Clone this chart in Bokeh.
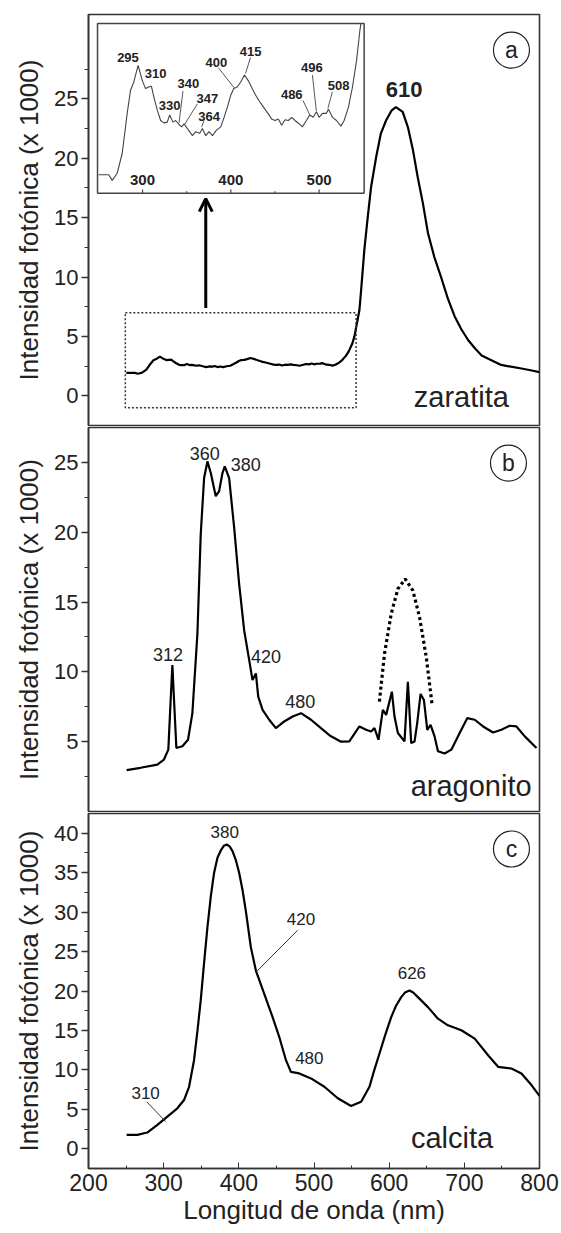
from bokeh.plotting import figure
from bokeh.layouts import column
from bokeh.models import Range1d, FixedTicker, Arrow, OpenHead
from bokeh.core.properties import value
from bokeh.embed import file_html
from bokeh.resources import INLINE

FONT = "Liberation Sans"

# ---------------- data ----------------
# (a) zaratita: detail region shown in the inset (250-547 nm)
inset_x = [250.3, 261.7, 265.6, 271.3, 277, 282.6, 286.4, 290, 295, 299.7, 303.4, 307, 310,
           312.9, 316.7, 320.5, 324.2, 328, 330.7, 334.4, 337.5, 341.3, 344.3, 347, 352, 356.5,
           360.2, 364.8, 367.8, 371.6, 375.3, 379.2, 383.7, 388.6, 392.4, 396.2, 400, 403.4,
           407.2, 411, 415.5, 419.7, 424.2, 428, 431.8, 435.6, 439.4, 443.2, 446.2, 450, 453.8,
           457.6, 461.4, 465.1, 469, 472.7, 477.3, 481, 485.6, 489.4, 493.2, 496.9, 500, 503.8,
           508.3, 510.6, 515.1, 519.7, 524.7, 528.4, 533.3, 537.8, 542.4, 546.2, 547.4]
inset_y = [1.93, 1.93, 1.86, 1.95, 2.2, 2.7, 2.99, 3.09, 3.3, 3.11, 3.01, 3.03, 3.04,
           2.9, 2.74, 2.61, 2.58, 2.59, 2.68, 2.59, 2.61, 2.56, 2.53, 2.57, 2.49, 2.42,
           2.47, 2.45, 2.51, 2.42, 2.47, 2.42, 2.49, 2.53, 2.65, 2.78, 2.93, 3.01,
           3.03, 3.09, 3.18, 3.11, 3.01, 2.93, 2.86, 2.8, 2.74, 2.68, 2.63, 2.61, 2.63,
           2.55, 2.62, 2.61, 2.65, 2.61, 2.57, 2.53, 2.61, 2.68, 2.65, 2.72, 2.65, 2.7,
           2.7, 2.75, 2.65, 2.61, 2.54, 2.61, 2.78, 3.03, 3.36, 3.74, 3.83]
# (a) zaratita: main band
zar_tail_x = [551, 553.8, 558, 560.4, 562.7, 567, 571.6, 576, 582.7, 589, 596, 603, 609,
              618, 625, 631.6, 638, 644.9, 651.6, 660, 669, 678, 687, 696, 705, 714, 723,
              736, 749, 762, 776, 788, 800]
zar_tail_y = [4.4, 5.0, 6.4, 7.2, 8.9, 12.3, 15.1, 17.6, 20.1, 22.1, 23.2, 24.0, 24.3,
              23.9, 22.6, 20.7, 18.4, 16.2, 13.7, 11.7, 10.0, 8.2, 6.7, 5.6, 4.7, 4.0, 3.4,
              3.0, 2.6, 2.45, 2.3, 2.15, 2.0]
zar_x = inset_x[:-1] + zar_tail_x
zar_y = inset_y[:-1] + zar_tail_y

# (b) aragonito
arag_x = [250.7, 269.3, 291.6, 300.4, 306.2, 309.3, 311.6, 313.8, 316.9, 324.9, 332.4, 338.2,
          344.9, 349.3, 353.8, 358.2, 362.7, 369.3, 373.8, 378.2, 381.3, 387.1, 393.8, 400.4,
          407.1, 413.8, 418.2, 422.7, 425.8, 431.6, 440.4, 449.3, 460.4, 471.6, 482.7, 496,
          509.3, 522, 536, 547, 560.4, 569.3, 576, 580.4, 585.8, 591.6, 596, 603.6, 607.1,
          611.6, 620.4, 624.9, 629.3, 633.8, 637.3, 641.8, 646.2, 650.7, 655.1, 660.4, 664.9,
          673.8, 682.7, 693.8, 704, 713.8, 725, 738.2, 749.3, 760.4, 769.3, 780.4, 796]
arag_y = [2.96, 3.13, 3.36, 3.72, 4.43, 7.99, 10.48, 7.99, 4.55, 4.67, 5.14, 7.04,
          12.74, 19.85, 23.88, 25.07, 24.24, 22.58, 22.94, 24.24, 24.72, 23.88, 20.32, 16.3,
          12.97, 10.84, 9.41, 9.89, 8.22, 7.28, 6.57, 5.97, 6.45, 6.8, 7.04, 6.57,
          5.97, 5.4, 5.0, 5.02, 6.09, 5.85, 5.73, 5.97, 5.14, 7.28, 6.92, 8.58, 6.8,
          5.62, 5.02, 9.29, 4.9, 5.02, 6.33, 8.42, 7.99, 5.85, 6.21, 5.38, 4.31,
          4.15, 4.43, 5.62, 6.69, 6.57, 6.09, 5.66, 5.85, 6.14, 6.09, 5.38, 4.55]
arc_x = [587, 593.8, 602.7, 611.6, 621.3, 631.6, 640.4, 649.3, 656.9]
arc_y = [7.87, 11.3, 14.16, 15.94, 16.65, 15.82, 13.92, 11.07, 7.75]

# (c) calcita
calc_x = [250.7, 264.9, 278.2, 291.6, 304.9, 318.2, 327.1, 333.8, 340.4, 345, 349.3, 353.8,
          358.2, 362.7, 367.1, 371.6, 376, 380, 384, 388, 391.6, 396, 400.4, 404.9, 409.3,
          416, 422.7, 433.8, 444.9, 453.8, 462.7, 469.3, 480.4,
          496, 513.8, 531.6, 549.3, 562.7, 573.8, 580, 587.1, 595, 602.7, 609, 616, 621, 627.1,
          632, 638.2, 651.6, 664.9, 678.2, 696, 713.8, 731.6, 744.9, 762.7, 776, 789.3, 800]
calc_y = [1.77, 1.77, 2.06, 3.03, 4.08, 5.13, 6.18, 7.86, 11.23, 15.0, 18.8, 23.6,
          28.05, 32.0, 35.0, 36.9, 37.82, 38.4, 38.57, 38.3, 37.73, 36.6, 35.0, 32.8, 30.16,
          25.53, 22.59, 19.65, 16.69, 14.17, 11.23, 9.75, 9.55,
          8.92, 7.86, 6.4, 5.43, 5.97, 7.86, 9.9, 12.08, 14.5, 16.69, 18.1, 19.22, 19.8, 20.06,
          19.8, 19.22, 17.96, 16.49, 15.65, 15.02, 13.97, 11.86, 10.39, 10.18, 9.55, 8.08, 6.7]

# tick values
x_ticks = [200, 300, 400, 500, 600, 700, 800]
x_minor = [250, 350, 450, 550, 650, 750]
a_ticks = [0, 5, 10, 15, 20, 25]
a_minor = [2.5, 7.5, 12.5, 17.5, 22.5, 27.5]
b_ticks = [5, 10, 15, 20, 25]
b_minor = [2.5, 7.5, 12.5, 17.5, 22.5]
c_ticks = [0, 5, 10, 15, 20, 25, 30, 35, 40]
c_minor = [2.5, 7.5, 12.5, 17.5, 22.5, 27.5, 32.5, 37.5]
inset_ticks = [300, 400, 500]
inset_minor = [350, 450]

# peak labels
inset_lab = ["295", "310", "330", "340", "347", "364", "400", "415", "486", "496", "508"]
inset_lab_x = [283.5, 314.8, 330.7, 352, 373.5, 375.3, 383.7, 422.3, 469, 491.7, 522]
inset_lab_y = [3.40, 3.20, 2.80, 3.07, 2.88, 2.66, 3.34, 3.48, 2.94, 3.27, 3.05]
inset_lead_x0 = [345.8, 362.2, 369.7, 386.0, 422.3, 481.8, 492.4, 515.0]
inset_lead_y0 = [2.98, 2.82, 2.61, 3.27, 3.40, 2.86, 3.18, 2.97]
inset_lead_x1 = [341.3, 347.0, 367.0, 403.7, 416.7, 489.4, 496.9, 509.9]
inset_lead_y1 = [2.58, 2.55, 2.53, 3.02, 3.20, 2.68, 2.73, 2.76]

b_lab = ["312", "360", "380", "420", "480"]
b_lab_x = [305.8, 354.7, 409.3, 436, 481.8]
b_lab_y = [11.26, 25.66, 24.87, 11.12, 7.87]

c_lab = ["380", "310", "420", "480", "626"]
c_lab_x = [381.3, 276, 482.7, 493.8, 630.2]
c_lab_y = [40.17, 7.03, 29.1, 11.57, 22.25]
c_lead_x0 = [277.3, 478.2]
c_lead_y0 = [5.97, 27.7]
c_lead_x1 = [302.7, 422.7]
c_lead_y1 = [3.44, 22.37]

YLABEL = "Intensidad fotónica (x 1000)"


def make_fig(height, yr, border_top, border_bottom, ticks, minor, bottom_axis):
    p = figure(width=561, height=height, x_range=Range1d(200, 800), y_range=Range1d(*yr),
               output_backend="svg", toolbar_location=None,
               x_axis_location="below" if bottom_axis else None,
               min_border_left=88, min_border_right=22,
               min_border_top=border_top, min_border_bottom=border_bottom)
    p.grid.visible = False
    p.outline_line_color = "#333333"
    p.outline_line_width = 1.6
    p.background_fill_color = "white"
    p.border_fill_color = "white"
    ya = p.yaxis[0]
    ya.ticker = FixedTicker(ticks=ticks, minor_ticks=minor)
    ya.major_tick_out = 7
    ya.major_tick_in = 0
    ya.minor_tick_out = 4
    ya.minor_tick_in = 0
    ya.axis_line_color = "#333333"
    ya.axis_line_width = 1.6
    ya.major_tick_line_color = "#333333"
    ya.minor_tick_line_color = "#333333"
    ya.major_tick_line_width = 1.3
    ya.major_label_text_font = FONT
    ya.major_label_text_font_size = "22px"
    ya.major_label_text_color = "#222222"
    ya.major_label_standoff = 3
    ya.axis_label = YLABEL
    ya.axis_label_text_font = FONT
    ya.axis_label_text_font_size = "26px"
    ya.axis_label_text_font_style = "normal"
    ya.axis_label_text_color = "#222222"
    ya.axis_label_standoff = 7
    if bottom_axis:
        xa = p.xaxis[0]
        xa.ticker = FixedTicker(ticks=x_ticks, minor_ticks=x_minor)
        xa.major_tick_out = 0
        xa.major_tick_in = 6
        xa.minor_tick_out = 0
        xa.minor_tick_in = 3
        xa.axis_line_color = "#333333"
        xa.axis_line_width = 1.6
        xa.major_tick_line_color = "#333333"
        xa.minor_tick_line_color = "#333333"
        xa.major_label_text_font = FONT
        xa.major_label_text_font_size = "23px"
        xa.major_label_text_color = "#222222"
        xa.major_label_standoff = 5
        xa.axis_label = "Longitud de onda (nm)"
        xa.axis_label_text_font = FONT
        xa.axis_label_text_font_size = "26px"
        xa.axis_label_text_font_style = "normal"
        xa.axis_label_text_color = "#222222"
        xa.axis_label_standoff = 1
    return p


def txt(p, xs, ys, texts, size, bold=False, align="center"):
    p.text(x=xs, y=ys, text=texts, text_font=value(FONT), text_font_size=size,
           text_font_style="bold" if bold else "normal", text_align=align,
           text_baseline="middle", text_color="#222222")


def badge(p, x, y, letter):
    p.scatter(x=[x], y=[y], size=36, marker="circle", fill_color="white",
              line_color="#222222", line_width=1.2)
    txt(p, [x], [y], [letter], "23px")


# ---------------- panel a ----------------
pa = make_fig(426, (-2.5, 32.1), 14, 1, a_ticks, a_minor, False)
pa.line(zar_x, zar_y, line_color="black", line_width=2.2)
pa.quad(left=[249], right=[556], bottom=[-1.0], top=[7.0], fill_alpha=0,
        line_color="#333333", line_width=1.5, line_dash="2 2")
pa.add_layout(Arrow(end=OpenHead(size=13, line_width=3, line_color="black"),
                    x_start=356, y_start=7.4, x_end=356, y_end=16.6,
                    line_width=3, line_color="black"))
txt(pa, [620], [25.8], ["610"], "22px", bold=True)
txt(pa, [696], [-0.1], ["zaratita"], "29px")
badge(pa, 762.7, 29.1, "a")

inset = pa.subplot(x_source=Range1d(249, 551), y_source=Range1d(1.70, 3.825),
                   x_target=Range1d(212, 566.7), y_target=Range1d(17.06, 31.34))
inset.quad(left=[249], right=[551], bottom=[1.70], top=[3.825], fill_color="white",
           line_color="#444444", line_width=1.5)
inset.line(inset_x, inset_y, line_color="#444444", line_width=1.1)
inset.segment(x0=inset_ticks, y0=[1.70] * 3, x1=inset_ticks, y1=[1.745] * 3,
              line_color="#444444", line_width=1.2)
inset.segment(x0=inset_minor, y0=[1.70] * 2, x1=inset_minor, y1=[1.725] * 2,
              line_color="#444444", line_width=1.2)
txt(inset, inset_ticks, [1.87] * 3, [str(t) for t in inset_ticks], "15px", bold=True)
inset.segment(x0=inset_lead_x0, y0=inset_lead_y0, x1=inset_lead_x1, y1=inset_lead_y1,
              line_color="#444444", line_width=0.9)
txt(inset, inset_lab_x, inset_lab_y, inset_lab, "13px", bold=True)

# ---------------- panel b ----------------
pb = make_fig(386, (0, 27.5), 1, 1, b_ticks, b_minor, False)
pb.line(arag_x, arag_y, line_color="black", line_width=2.2)
pb.line(arc_x, arc_y, line_color="black", line_width=3.2, line_dash="3 3")
txt(pb, b_lab_x, b_lab_y, b_lab, "18px")
txt(pb, [709], [1.82], ["aragonito"], "29px")
badge(pb, 758.7, 24.95, "b")

# ---------------- panel c ----------------
pc = make_fig(421, (-2.5, 42.5), 1, 65, c_ticks, c_minor, True)
pc.line(calc_x, calc_y, line_color="black", line_width=2.2)
pc.segment(x0=c_lead_x0, y0=c_lead_y0, x1=c_lead_x1, y1=c_lead_y1,
           line_color="#333333", line_width=1)
txt(pc, c_lab_x, c_lab_y, c_lab, "17px")
txt(pc, [683.6], [1.39], ["calcita"], "29px")
badge(pc, 762.7, 38.0, "c")

layout = column(pa, pb, pc, spacing=0)
open("out.html", "w").write(file_html(layout, INLINE))
